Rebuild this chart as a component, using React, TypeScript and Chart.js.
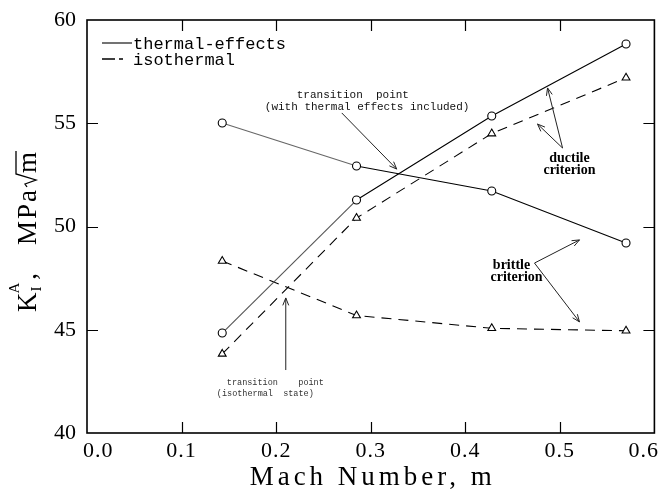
import React, { useEffect, useRef } from 'react';
import { Chart, registerables } from 'chart.js';

Chart.register(...registerables);

// ---------- data ----------
const machNumbers = [0.143, 0.285, 0.428, 0.570];
const thermalDuctile = [44.84, 51.28, 55.35, 58.84];
const isothermalDuctile = [43.83, 50.41, 54.5, 57.2];
const thermalBrittle = [55.01, 52.93, 51.72, 49.2];
const isothermalBrittle = [48.33, 45.69, 45.07, 44.95];

const xMin = 0;
const xMax = 0.6;
const yMin = 40;
const yMax = 60;
const xTickValues = [0, 0.1, 0.2, 0.3, 0.4, 0.5, 0.6];
const xTickLabels = ['0.0', '0.1', '0.2', '0.3', '0.4', '0.5', '0.6'];
const xInnerTicks = [0.1, 0.2, 0.3, 0.4, 0.5];
const yInnerTicks = [45, 50, 55];

const legendLabels = ['thermal-effects', 'isothermal'];
const xTitle = 'Mach Number, m';

// annotation texts anchored in data units
const noteTransThermalLines = ['transition  point', '(with thermal effects included)'];
const noteTransThermalX = [0.2218, 0.188];
const noteTransThermalY = [56.37, 55.79];

const noteTransIsoLines = ['transition    point', '(isothermal  state)'];
const noteTransIsoX = [0.1479, 0.1373];
const noteTransIsoY = [42.42, 41.89];

const noteDuctileLines = ['ductile', 'criterion'];
const noteDuctileX = [0.5102, 0.5102];
const noteDuctileY = [53.32, 52.74];

const noteBrittleLines = ['brittle', 'criterion'];
const noteBrittleX = [0.4489, 0.4542];
const noteBrittleY = [48.14, 47.55];

// arrows [fromX, fromY, toX, toY] in data units
const arrows: number[][] = [
  [0.2694, 55.5, 0.3275, 52.78],
  [0.5029, 53.8, 0.487, 56.71],
  [0.5029, 53.8, 0.4764, 54.96],
  [0.4732, 48.23, 0.5208, 49.35],
  [0.4732, 48.23, 0.5208, 45.38],
  [0.2102, 43.05, 0.2102, 46.54],
];

const SERIF = '"Liberation Serif", "Times New Roman", serif';
const MONO = '"Liberation Mono", "DejaVu Sans Mono", monospace';

function drawArrow(ctx: CanvasRenderingContext2D, x1: number, y1: number, x2: number, y2: number) {
  ctx.beginPath();
  ctx.moveTo(x1, y1);
  ctx.lineTo(x2, y2);
  ctx.stroke();
  const a = Math.atan2(y2 - y1, x2 - x1);
  const h = 8;
  const s = 0.38;
  ctx.beginPath();
  ctx.moveTo(x2 - h * Math.cos(a - s), y2 - h * Math.sin(a - s));
  ctx.lineTo(x2, y2);
  ctx.lineTo(x2 - h * Math.cos(a + s), y2 - h * Math.sin(a + s));
  ctx.stroke();
}

const decorPlugin = {
  id: 'decor',
  afterDraw(chart: any) {
    const ctx: CanvasRenderingContext2D = chart.ctx;
    const { left, right, top, bottom } = chart.chartArea;
    const W = chart.width;
    const xs = chart.scales.x;
    const ys = chart.scales.y;
    const px = (v: number) => xs.getPixelForValue(v);
    const py = (v: number) => ys.getPixelForValue(v);

    ctx.save();
    ctx.strokeStyle = '#000';
    ctx.fillStyle = '#000';

    // frame
    ctx.lineWidth = 1.6;
    ctx.strokeRect(left, top, right - left, bottom - top);

    // inward ticks
    ctx.lineWidth = 1.2;
    const tl = 11;
    xInnerTicks.forEach((v) => {
      const x = Math.round(px(v)) + 0.5;
      ctx.beginPath();
      ctx.moveTo(x, bottom);
      ctx.lineTo(x, bottom - tl);
      ctx.moveTo(x, top);
      ctx.lineTo(x, top + tl);
      ctx.stroke();
    });
    yInnerTicks.forEach((v) => {
      const y = Math.round(py(v)) + 0.5;
      ctx.beginPath();
      ctx.moveTo(left, y);
      ctx.lineTo(left + tl, y);
      ctx.moveTo(right, y);
      ctx.lineTo(right - tl, y);
      ctx.stroke();
    });

    // x tick labels (kept inside the canvas like the original)
    ctx.font = `22px ${SERIF}`;
    (ctx as any).letterSpacing = '1px';
    ctx.textAlign = 'center';
    ctx.textBaseline = 'middle';
    xTickValues.forEach((v, i) => {
      const t = xTickLabels[i];
      const w = ctx.measureText(t).width;
      let cx = px(v);
      if (cx - w / 2 < left - 4) cx = left - 4 + w / 2;
      if (cx + w / 2 > W - 1) cx = W - 1 - w / 2;
      ctx.fillText(t, cx, bottom + 18);
    });
    (ctx as any).letterSpacing = '0px';

    // legend
    const lx = left + 15;
    const ly1 = top + 23;
    const ly2 = top + 39;
    ctx.lineWidth = 1.1;
    ctx.beginPath();
    ctx.moveTo(lx, ly1);
    ctx.lineTo(lx + 30, ly1);
    ctx.stroke();
    ctx.lineWidth = 1.6;
    ctx.beginPath();
    ctx.moveTo(lx, ly2);
    ctx.lineTo(lx + 13, ly2);
    ctx.moveTo(lx + 17, ly2);
    ctx.lineTo(lx + 21, ly2);
    ctx.stroke();
    ctx.font = `17px ${MONO}`;
    ctx.textAlign = 'left';
    ctx.textBaseline = 'middle';
    ctx.fillText(legendLabels[0], lx + 31, ly1 + 1);
    ctx.fillText(legendLabels[1], lx + 31, ly2 + 1);

    // arrows
    ctx.lineWidth = 1;
    ctx.strokeStyle = '#222';
    arrows.forEach((a) => drawArrow(ctx, px(a[0]), py(a[1]), px(a[2]), py(a[3])));

    // annotation texts
    ctx.fillStyle = '#111';
    ctx.textBaseline = 'middle';
    ctx.textAlign = 'left';
    ctx.font = `11px ${MONO}`;
    noteTransThermalLines.forEach((t, i) => ctx.fillText(t, px(noteTransThermalX[i]), py(noteTransThermalY[i])));
    ctx.font = `8.5px ${MONO}`;
    ctx.fillStyle = '#333';
    noteTransIsoLines.forEach((t, i) => ctx.fillText(t, px(noteTransIsoX[i]), py(noteTransIsoY[i])));
    ctx.fillStyle = '#000';
    ctx.textAlign = 'center';
    ctx.font = `bold 14px ${SERIF}`;
    noteDuctileLines.forEach((t, i) => ctx.fillText(t, px(noteDuctileX[i]), py(noteDuctileY[i])));
    noteBrittleLines.forEach((t, i) => ctx.fillText(t, px(noteBrittleX[i]), py(noteBrittleY[i])));

    // x title
    ctx.font = `27px ${SERIF}`;
    (ctx as any).letterSpacing = '4px';
    ctx.textAlign = 'center';
    ctx.textBaseline = 'middle';
    ctx.fillText(xTitle, (left + right) / 2 + 2, 478);
    (ctx as any).letterSpacing = '0px';

    // y title: K_I^A, MPa√m (rotated)
    ctx.translate(36, 312);
    ctx.rotate(-Math.PI / 2);
    ctx.textAlign = 'left';
    ctx.textBaseline = 'alphabetic';
    ctx.font = `27px ${SERIF}`;
    ctx.fillText('K', 0, 0);
    let u = ctx.measureText('K').width + 1;
    ctx.font = `15px ${SERIF}`;
    ctx.fillText('I', u, 5);
    ctx.fillText('A', u - 2, -17);
    u += ctx.measureText('A').width + 1;
    ctx.font = `27px ${SERIF}`;
    ctx.fillText(',', u, 0);
    u = 67;
    (ctx as any).letterSpacing = '2px';
    ctx.fillText('MPa', u, 0);
    u += ctx.measureText('MPa').width + 1;
    (ctx as any).letterSpacing = '0px';
    const mw = ctx.measureText('m').width;
    ctx.lineWidth = 1.3;
    ctx.strokeStyle = '#000';
    ctx.beginPath();
    ctx.moveTo(u, -9);
    ctx.lineTo(u + 3, -11);
    ctx.lineTo(u + 7, 0);
    ctx.lineTo(u + 13, -20);
    ctx.lineTo(u + 15 + mw, -20);
    ctx.stroke();
    ctx.fillText('m', u + 14, 0);

    ctx.restore();
  },
};

export default function App() {
  const ref = useRef<HTMLCanvasElement | null>(null);

  useEffect(() => {
    document.body.style.margin = '0';
    const canvas = ref.current;
    if (!canvas) return;

    const toPts = (ys: number[]) => machNumbers.map((x, i) => ({ x, y: ys[i] }));
    const base = {
      borderColor: '#000',
      borderWidth: 1.1,
      pointBorderColor: '#000',
      pointBackgroundColor: '#fff',
      pointBorderWidth: 1.1,
      tension: 0,
      fill: false,
    };

    const chart = new Chart(canvas, {
      type: 'scatter',
      data: {
        datasets: [
          {
            ...base,
            label: 'thermal-effects ductile',
            data: toPts(thermalDuctile),
            showLine: true,
            pointStyle: 'circle',
            pointRadius: 4,
            segment: { borderColor: (c: any) => (c.p0DataIndex === 0 ? '#555' : '#000') },
          },
          {
            ...base,
            label: 'isothermal ductile',
            data: toPts(isothermalDuctile),
            showLine: true,
            borderDash: [10, 7],
            pointStyle: 'triangle',
            pointRadius: 4.5,
          },
          {
            ...base,
            label: 'thermal-effects brittle',
            data: toPts(thermalBrittle),
            showLine: true,
            pointStyle: 'circle',
            pointRadius: 4,
            segment: { borderColor: (c: any) => (c.p0DataIndex === 0 ? '#666' : '#000') },
          },
          {
            ...base,
            label: 'isothermal brittle',
            data: toPts(isothermalBrittle),
            showLine: true,
            borderDash: [10, 7],
            pointStyle: 'triangle',
            pointRadius: 4.5,
          },
        ] as any,
      },
      options: {
        animation: false,
        responsive: false,
        maintainAspectRatio: false,
        layout: { padding: { top: 20, right: 5, left: 0, bottom: 0 } },
        plugins: {
          legend: { display: false },
          tooltip: { enabled: false },
          title: { display: false },
        },
        scales: {
          x: {
            type: 'linear',
            min: xMin,
            max: xMax,
            grid: { display: false, drawTicks: false },
            border: { display: false },
            ticks: { display: false, stepSize: 0.1 },
            afterFit: (s: any) => {
              s.height = 60;
              s.paddingLeft = 0;
              s.paddingRight = 0;
            },
          },
          y: {
            type: 'linear',
            min: yMin,
            max: yMax,
            grid: { display: false, drawTicks: false },
            border: { display: false },
            ticks: {
              stepSize: 5,
              color: '#000',
              padding: 11,
              font: { family: SERIF, size: 22 },
            },
            afterFit: (s: any) => {
              s.width = 87;
              s.paddingTop = 0;
              s.paddingBottom = 0;
            },
          },
        },
      } as any,
      plugins: [decorPlugin],
    });

    return () => chart.destroy();
  }, []);

  return (
    <div style={{ width: 660, height: 493, background: '#fff' }}>
      <canvas ref={ref} width={660} height={493} style={{ display: 'block' }} />
    </div>
  );
}
